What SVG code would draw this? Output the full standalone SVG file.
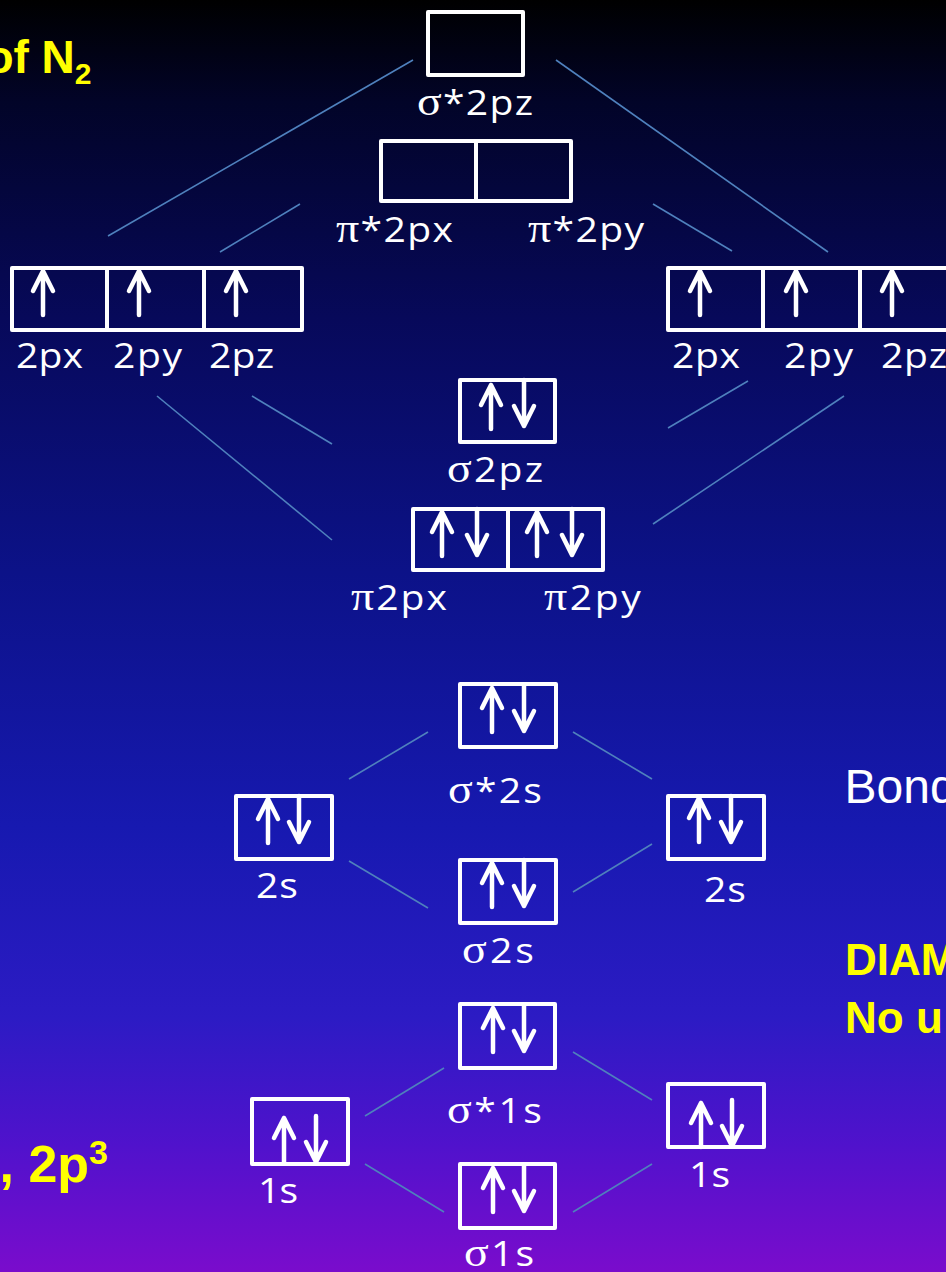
<svg xmlns="http://www.w3.org/2000/svg" xmlns:xlink="http://www.w3.org/1999/xlink" width="946" height="1272" viewBox="0 0 946 1272">
  <defs>
    <linearGradient id="bg" x1="0" y1="0" x2="0" y2="1">
      <stop offset="0" stop-color="#000000"/>
      <stop offset="0.08" stop-color="#020428"/>
      <stop offset="0.25" stop-color="#07095a"/>
      <stop offset="0.45" stop-color="#0c1288"/>
      <stop offset="0.65" stop-color="#1719b0"/>
      <stop offset="0.8" stop-color="#2c1bc4"/>
      <stop offset="0.9" stop-color="#5012cc"/>
      <stop offset="1" stop-color="#7a0ccc"/>
    </linearGradient>
    <!-- electron spin arrows, tip / top at the origin -->
    <path id="up" d="M0 1 L0 45 M-10 21 L0 1 L10 21"/>
    <path id="dn" d="M0 0 L0 46 M-10 26 L0 46 L10 26"/>
  </defs>
  <style>
    .box { fill: none; stroke: #ffffff; stroke-width: 4; stroke-linejoin: round; }
    .div { stroke: #ffffff; stroke-width: 4; }
    .spin { fill: none; stroke: #ffffff; stroke-width: 4.5; stroke-linecap: round; stroke-linejoin: round; }
    .lbl { font-family: "Open Sans", Lato, sans-serif; font-size: 34px; fill: #ffffff; }
    .gk { font-family: "Liberation Serif", "DejaVu Serif", serif; font-size: 40px; }
    .note { font-family: "Liberation Sans", Arial, sans-serif; fill: #ffffff; }
    .hl { font-family: "Liberation Sans", Arial, sans-serif; font-weight: bold; fill: #ffff00; }
    .cn { stroke: #4f81bd; stroke-width: 1.6; fill: none; }
  </style>

  <rect x="0" y="0" width="946" height="1272" fill="url(#bg)"/>

  <!-- correlation lines between atomic and molecular orbitals -->
  <g id="connectors" class="cn">
    <line x1="108" y1="236" x2="413" y2="60"/>
    <line x1="220" y1="252" x2="300" y2="204"/>
    <line x1="556" y1="60" x2="828" y2="252"/>
    <line x1="653" y1="204" x2="732" y2="251"/>
    <line x1="157" y1="396" x2="332" y2="540"/>
    <line x1="252" y1="396" x2="332" y2="444"/>
    <line x1="668" y1="428" x2="748" y2="381"/>
    <line x1="653" y1="524" x2="844" y2="396"/>
    <line x1="349" y1="779" x2="428" y2="732"/>
    <line x1="349" y1="861" x2="428" y2="908"/>
    <line x1="573" y1="732" x2="652" y2="779"/>
    <line x1="573" y1="892" x2="652" y2="844"/>
    <line x1="365" y1="1116" x2="444" y2="1068"/>
    <line x1="365" y1="1164" x2="444" y2="1212"/>
    <line x1="573" y1="1052" x2="652" y2="1100"/>
    <line x1="573" y1="1212" x2="652" y2="1164"/>
  </g>

  <!-- labels use a slightly widened face: translate to the start point, then stretch x -->

  <!-- sigma* 2pz -->
  <g id="sigma-star-2pz">
    <rect class="box" x="428" y="12" width="95" height="63"/>
    <text class="lbl" transform="translate(417 115) scale(1.15 1)" textLength="100.9"><tspan class="gk">σ</tspan>*2pz</text>
  </g>

  <!-- pi* 2px / 2py -->
  <g id="pi-star-2p">
    <rect class="box" x="381" y="141" width="190" height="60"/>
    <line class="div" x1="476" y1="141" x2="476" y2="201"/>
    <text class="lbl" transform="translate(336 242) scale(1.15 1)" textLength="101.7"><tspan class="gk">π</tspan>*2px</text>
    <text class="lbl" transform="translate(528 242) scale(1.15 1)" textLength="100.9"><tspan class="gk">π</tspan>*2py</text>
  </g>

  <!-- left atom 2p -->
  <g id="left-2p">
    <rect class="box" x="12" y="268" width="290" height="62"/>
    <line class="div" x1="107" y1="268" x2="107" y2="330"/>
    <line class="div" x1="204" y1="268" x2="204" y2="330"/>
    <g class="spin">
      <use xlink:href="#up" x="43" y="270"/>
      <use xlink:href="#up" x="139" y="270"/>
      <use xlink:href="#up" x="236" y="270"/>
    </g>
    <text class="lbl" transform="translate(16 368) scale(1.15 1)" textLength="58.3">2px</text>
    <text class="lbl" transform="translate(113 368) scale(1.15 1)" textLength="60">2py</text>
    <text class="lbl" transform="translate(209 368) scale(1.15 1)" textLength="56.5">2pz</text>
  </g>

  <!-- right atom 2p -->
  <g id="right-2p">
    <rect class="box" x="668" y="268" width="290" height="62"/>
    <line class="div" x1="763" y1="268" x2="763" y2="330"/>
    <line class="div" x1="860" y1="268" x2="860" y2="330"/>
    <g class="spin">
      <use xlink:href="#up" x="700" y="270"/>
      <use xlink:href="#up" x="796" y="270"/>
      <use xlink:href="#up" x="892" y="270"/>
    </g>
    <text class="lbl" transform="translate(672 368) scale(1.15 1)" textLength="59.1">2px</text>
    <text class="lbl" transform="translate(784 368) scale(1.15 1)" textLength="60">2py</text>
    <text class="lbl" transform="translate(881 368) scale(1.15 1)" textLength="57.4">2pz</text>
  </g>

  <!-- sigma 2pz -->
  <g id="sigma-2pz">
    <rect class="box" x="460" y="380" width="95" height="62"/>
    <g class="spin">
      <use xlink:href="#up" x="491" y="384"/>
      <use xlink:href="#dn" x="524" y="380"/>
    </g>
    <text class="lbl" transform="translate(447 482) scale(1.15 1)" textLength="83.5"><tspan class="gk">σ</tspan>2pz</text>
  </g>

  <!-- pi 2px / 2py -->
  <g id="pi-2p">
    <rect class="box" x="413" y="509" width="190" height="61"/>
    <line class="div" x1="508" y1="509" x2="508" y2="570"/>
    <g class="spin">
      <use xlink:href="#up" x="442" y="511"/>
      <use xlink:href="#dn" x="477" y="509"/>
      <use xlink:href="#up" x="537" y="511"/>
      <use xlink:href="#dn" x="572" y="509"/>
    </g>
    <text class="lbl" transform="translate(351 610) scale(1.15 1)" textLength="83.5"><tspan class="gk">π</tspan>2px</text>
    <text class="lbl" transform="translate(544 610) scale(1.15 1)" textLength="84.3"><tspan class="gk">π</tspan>2py</text>
  </g>

  <!-- sigma* 2s -->
  <g id="sigma-star-2s">
    <rect class="box" x="460" y="684" width="96" height="63"/>
    <g class="spin">
      <use xlink:href="#up" x="492" y="687"/>
      <use xlink:href="#dn" x="524" y="685"/>
    </g>
    <text class="lbl" transform="translate(448 803) scale(1.15 1)" textLength="81.7"><tspan class="gk">σ</tspan>*2s</text>
  </g>

  <!-- left atom 2s -->
  <g id="left-2s">
    <rect class="box" x="236" y="796" width="96" height="63"/>
    <g class="spin">
      <use xlink:href="#up" x="268" y="798"/>
      <use xlink:href="#dn" x="299" y="796"/>
    </g>
    <text class="lbl" transform="translate(256 898) scale(1.15 1)" textLength="36.5">2s</text>
  </g>

  <!-- right atom 2s -->
  <g id="right-2s">
    <rect class="box" x="668" y="796" width="96" height="63"/>
    <g class="spin">
      <use xlink:href="#up" x="699" y="797"/>
      <use xlink:href="#dn" x="731" y="796"/>
    </g>
    <text class="lbl" transform="translate(704 902) scale(1.15 1)" textLength="36.5">2s</text>
  </g>

  <!-- sigma 2s -->
  <g id="sigma-2s">
    <rect class="box" x="460" y="860" width="96" height="63"/>
    <g class="spin">
      <use xlink:href="#up" x="492" y="862"/>
      <use xlink:href="#dn" x="524" y="860"/>
    </g>
    <text class="lbl" transform="translate(462 963) scale(1.15 1)" textLength="62.6"><tspan class="gk">σ</tspan>2s</text>
  </g>

  <!-- sigma* 1s -->
  <g id="sigma-star-1s">
    <rect class="box" x="460" y="1004" width="95" height="64"/>
    <g class="spin">
      <use xlink:href="#up" x="493" y="1007"/>
      <use xlink:href="#dn" x="524" y="1005"/>
    </g>
    <text class="lbl" transform="translate(447 1123) scale(1.15 1)" textLength="82.6"><tspan class="gk">σ</tspan>*1s</text>
  </g>

  <!-- left atom 1s -->
  <g id="left-1s">
    <rect class="box" x="252" y="1099" width="96" height="65"/>
    <g class="spin">
      <use xlink:href="#up" x="284" y="1117"/>
      <use xlink:href="#dn" x="316" y="1116"/>
    </g>
    <text class="lbl" transform="translate(258 1203) scale(1.15 1)" textLength="34.8">1s</text>
  </g>

  <!-- right atom 1s -->
  <g id="right-1s">
    <rect class="box" x="668" y="1084" width="96" height="63"/>
    <g class="spin">
      <use xlink:href="#up" x="701" y="1102"/>
      <use xlink:href="#dn" x="732" y="1100"/>
    </g>
    <text class="lbl" transform="translate(689 1187) scale(1.15 1)" textLength="35.7">1s</text>
  </g>

  <!-- sigma 1s -->
  <g id="sigma-1s">
    <rect class="box" x="460" y="1164" width="95" height="64"/>
    <g class="spin">
      <use xlink:href="#up" x="493" y="1167"/>
      <use xlink:href="#dn" x="524" y="1165"/>
    </g>
    <text class="lbl" transform="translate(464 1266) scale(1.15 1)" textLength="60.9"><tspan class="gk">σ</tspan>1s</text>
  </g>

  <!-- side notes -->
  <g id="notes">
    <text class="hl" x="-14.6" y="73" font-size="46">of N<tspan font-size="30" dy="11">2</tspan></text>
    <text class="hl" x="-0.5" y="1182" font-size="52">, 2p<tspan font-size="34" dy="-18">3</tspan></text>
    <text class="note" x="844.5" y="803" font-size="48">Bond</text>
    <text class="hl" x="845" y="975" font-size="44">DIAM</text>
    <text class="hl" x="845" y="1033" font-size="44">No u</text>
  </g>
</svg>
